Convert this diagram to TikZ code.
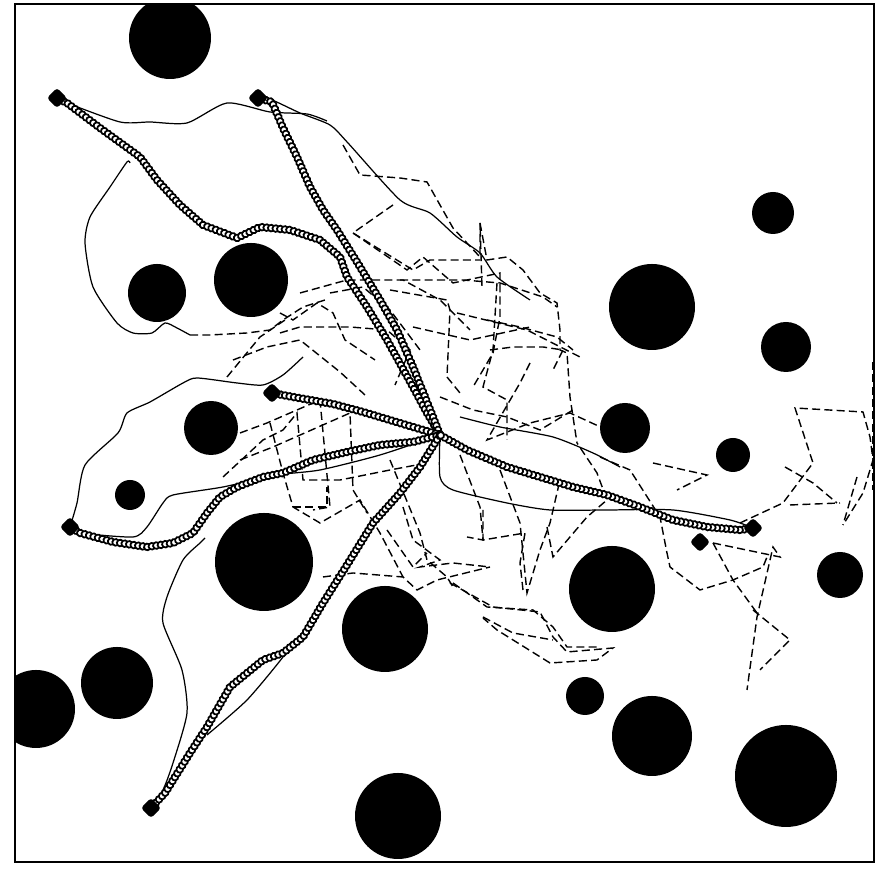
\documentclass[tikz,border=0pt]{standalone}
\usetikzlibrary{decorations.markings,backgrounds}

\begin{document}
\begin{tikzpicture}[x=0.01cm, y=-0.01cm,
  obstacle/.style={fill=black},
  startbox/.style={draw=black, fill=black, rectangle, rotate=45, minimum size=0.13cm, inner sep=0pt, rounded corners=0.8pt},
  walk/.style={line width=0.4pt, dash pattern=on 2.3pt off 1.2pt},
  thinpath/.style={line width=0.35pt},
  trail/.style={postaction={decorate}, decoration={markings,
      mark=between positions 0 and 1 step 1.3pt with {\draw[line width=0.5pt, fill=white] (0,0) circle (0.95pt);}}}]
  \useasboundingbox (0,0) rectangle (890,874);
  % start positions and common goal
  \node[startbox] (sA) at (57,98) {};
  \node[startbox] (sB) at (258,98) {};
  \node[startbox] (sC) at (272,393) {};
  \node[startbox] (sD) at (70,527) {};
  \node[startbox] (sE) at (151,808) {};
  \node[startbox] (sF) at (753,528) {};
  \node[startbox] (sG) at (700,542) {};
  \coordinate (goal) at (440,435);

  \begin{scope}[on background layer]
  % obstacles
  \begin{scope}
    \clip (15,4) rectangle (874,862);
    \foreach \x/\y/\r in {170/38/41, 157/293/29, 251/280/37, 211/428/27, 130/495/15,
        264/562/49, 385/629/43, 117/683/36, 36/709/39, 398/816/43, 652/307/43,
        773/213/21, 786/347/25, 625/428/25, 733/455/17, 612/589/43, 840/575/23,
        585/696/19, 652/736/40, 786/776/51} {
      \fill[obstacle] (\x,\y) circle [radius=\r];
    }
  \end{scope}

  % random walks
  \draw[walk] plot coordinates {(190,335) (210,335) (247,333) (270,330) (283,320) (303,307) (325,300)};
  \draw[walk] plot coordinates {(343,145) (360,175) (400,178) (427,182) (453,228) (480,257) (480,223) (482,287)};
  \draw[walk] plot coordinates {(480,223) (487,260) (507,257) (523,270) (540,293) (557,303) (560,330) (560,350) (567,353) (570,397) (577,443)};
  \draw[walk] plot coordinates {(393,205) (360,228) (353,233) (407,270) (423,257) (453,283) (500,273) (500,317) (493,353) (473,387)};
  \draw[walk] plot coordinates {(353,233) (413,270) (430,260) (480,260)};
  \draw[walk] plot coordinates {(400,280) (463,280) (500,283) (543,297) (557,307)};
  \draw[walk] plot coordinates {(457,313) (527,330) (580,357)};
  \draw[walk] plot coordinates {(487,320) (520,327) (557,337) (573,350)};
  \draw[walk] plot coordinates {(490,350) (513,347) (543,347) (563,350) (553,370)};
  \draw[walk] plot coordinates {(413,327) (470,340) (530,327)};
  \draw[walk] plot coordinates {(390,290) (447,300) (450,310) (447,377) (460,393)};
  \draw[walk] plot coordinates {(497,283) (493,350) (483,387) (507,400) (507,440)};
  \draw[walk] plot coordinates {(330,293) (363,287) (390,310) (420,350)};
  \draw[walk] plot coordinates {(530,363) (520,383) (487,440) (530,423) (570,413) (607,430)};
  \draw[walk] plot coordinates {(440,397) (473,410) (507,417) (540,430) (573,410)};
  \draw[walk] plot coordinates {(300,293) (347,280) (403,280) (440,300) (470,330)};
  \draw[walk] plot coordinates {(280,313) (293,320) (317,303) (333,313) (345,340) (375,360)};
  \draw[walk] plot coordinates {(280,333) (300,327) (350,327) (387,330) (410,350) (395,385)};
  \draw[walk] plot coordinates {(227,377) (260,337) (285,320)};
  \draw[walk] plot coordinates {(233,360) (267,347) (300,340) (340,372) (365,395)};
  \draw[walk] plot coordinates {(240,433) (267,423) (290,413) (320,400) (330,507) (313,510)};
  \draw[walk] plot coordinates {(223,477) (263,440) (283,430) (297,413) (303,480) (340,480) (390,470) (427,463)};
  \draw[walk] plot coordinates {(270,423) (283,473) (293,507) (320,523) (360,500) (380,533) (403,577)};
  \draw[walk] plot coordinates {(293,507) (327,507) (327,487)};
  \draw[walk] plot coordinates {(240,460) (273,447) (350,413) (353,490) (367,513)};
  \draw[walk] plot coordinates {(387,530) (413,567) (427,553)};
  \draw[walk] plot coordinates {(403,507) (413,540) (440,560) (420,567) (453,563) (490,567)};
  \draw[walk] plot coordinates {(323,577) (353,573) (403,577) (417,590) (437,580) (490,567)};
  \draw[walk] plot coordinates {(390,460) (420,533) (427,560) (447,577) (453,587)};
  \draw[walk] plot coordinates {(460,455) (480,507) (483,540) (467,537)};
  \draw[walk] plot coordinates {(500,470) (520,523) (527,593) (540,550) (550,523) (560,480)};
  \draw[walk] plot coordinates {(547,527) (553,557) (587,517) (607,500) (597,473) (577,443)};
  \draw[walk] plot coordinates {(453,583) (487,607) (533,610) (553,627) (567,647) (600,647)};
  \draw[walk] plot coordinates {(483,617) (513,633) (553,640)};
  \draw[walk] plot coordinates {(450,583) (493,607) (540,612) (553,637) (567,652) (613,648) (597,660) (550,663) (497,630) (483,618)};
  \draw[walk] plot coordinates {(523,590) (520,563) (525,533) (483,540) (483,510)};
  \draw[walk] plot coordinates {(600,457) (630,470) (660,517) (667,553) (670,567) (700,590) (733,580) (763,567) (767,557)};
  \draw[walk] plot coordinates {(653,463) (707,475) (677,490)};
  \draw[walk] plot coordinates {(740,523) (783,503) (813,463) (795,408) (863,412) (870,437) (873,460) (863,493) (843,525)};
  \draw[walk] plot coordinates {(857,477) (843,525)};
  \draw[walk] plot coordinates {(785,467) (813,483) (837,503)};
  \draw[walk] plot coordinates {(790,505) (840,503)};
  \draw[walk] plot coordinates {(713,543) (780,557) (773,547) (757,617) (747,690)};
  \draw[walk] plot coordinates {(753,610) (790,640) (760,670)};
  \draw[walk] plot coordinates {(713,543) (733,580) (757,613)};
  \draw[walk] (873,362) -- (873,490);

  % smooth planner paths
  \draw[thinpath] plot[smooth, tension=0.4] coordinates {(sA) (67,103) (120,122) (150,122) (187,123) (227,103) (270,112) (307,114) (327,121)};
  \draw[thinpath] plot[smooth, tension=0.4] coordinates {(sB) (272,100) (300,113) (330,125) (348,143) (400,200) (430,213) (457,237) (480,253) (497,277) (530,300)};
  \draw[thinpath] plot[smooth, tension=0.4] coordinates {(130,163) (127,162) (110,187) (90,217) (85,243) (93,287) (117,323) (133,333) (152,333) (165,323) (177,328) (190,335)};
  \draw[thinpath] plot[smooth, tension=0.4] coordinates {(sD) (77,503) (85,465) (118,433) (127,413) (150,402) (183,383) (197,378) (237,383) (263,385) (283,375) (303,357)};
  \draw[thinpath] plot[smooth, tension=0.4] coordinates {(sD) (80,533) (133,537) (147,527) (163,503) (173,495) (223,487) (277,475) (320,470) (380,455) (goal)};
  \draw[thinpath] plot[smooth, tension=0.4] coordinates {(sE) (163,790) (173,763) (187,713) (182,670) (163,623) (167,597) (183,560) (200,543) (205,538)};
  \draw[thinpath] plot[smooth, tension=0.4] coordinates {(207,735) (247,700) (283,657) (290,643)};
  \draw[thinpath] plot[smooth, tension=0.4] coordinates {(sF) (730,520) (673,510) (607,510) (550,510) (507,503) (453,490) (440,477) (goal)};
  \draw[thinpath] plot[smooth, tension=0.4] coordinates {(460,417) (500,427) (553,437) (593,453) (620,467)};

  % trails of the tracked robots
  \path[trail] (sA) -- (67,103) -- (100,128) -- (140,157) -- (157,180) -- (180,205) -- (203,225) -- (237,238) -- (260,227) -- (290,230) -- (320,240) -- (340,257) -- (347,277) -- (367,307) -- (387,340) -- (413,387) -- (427,413) -- (goal);
  \path[trail] (sB) -- (272,102) -- (283,128) -- (297,157) -- (310,187) -- (323,210) -- (337,230) -- (357,262) -- (380,300) -- (397,330) -- (413,367) -- (433,417) -- (goal);
  \path[trail] (sC) -- (293,397) -- (333,404) -- (363,412) -- (413,427) -- (goal);
  \path[trail] (sD) -- (80,533) -- (113,542) -- (147,547) -- (173,543) -- (193,533) -- (207,513) -- (220,497) -- (237,487) -- (263,477) -- (283,473) -- (313,460) -- (347,452) -- (380,445) -- (413,442) -- (goal);
  \path[trail] (sE) -- (165,793) -- (190,753) -- (207,727) -- (230,687) -- (263,660) -- (283,653) -- (303,637) -- (323,603) -- (347,565) -- (373,523) -- (400,493) -- (420,467) -- (goal);
  \path[trail] (sF) -- (740,530) -- (707,527) -- (673,520) -- (640,507) -- (607,495) -- (573,487) -- (540,477) -- (507,467) -- (467,450) -- (goal);
  \end{scope}

  % frame
  \draw[line width=0.4pt] (15,4) rectangle (874,862);
\end{tikzpicture}
\end{document}
